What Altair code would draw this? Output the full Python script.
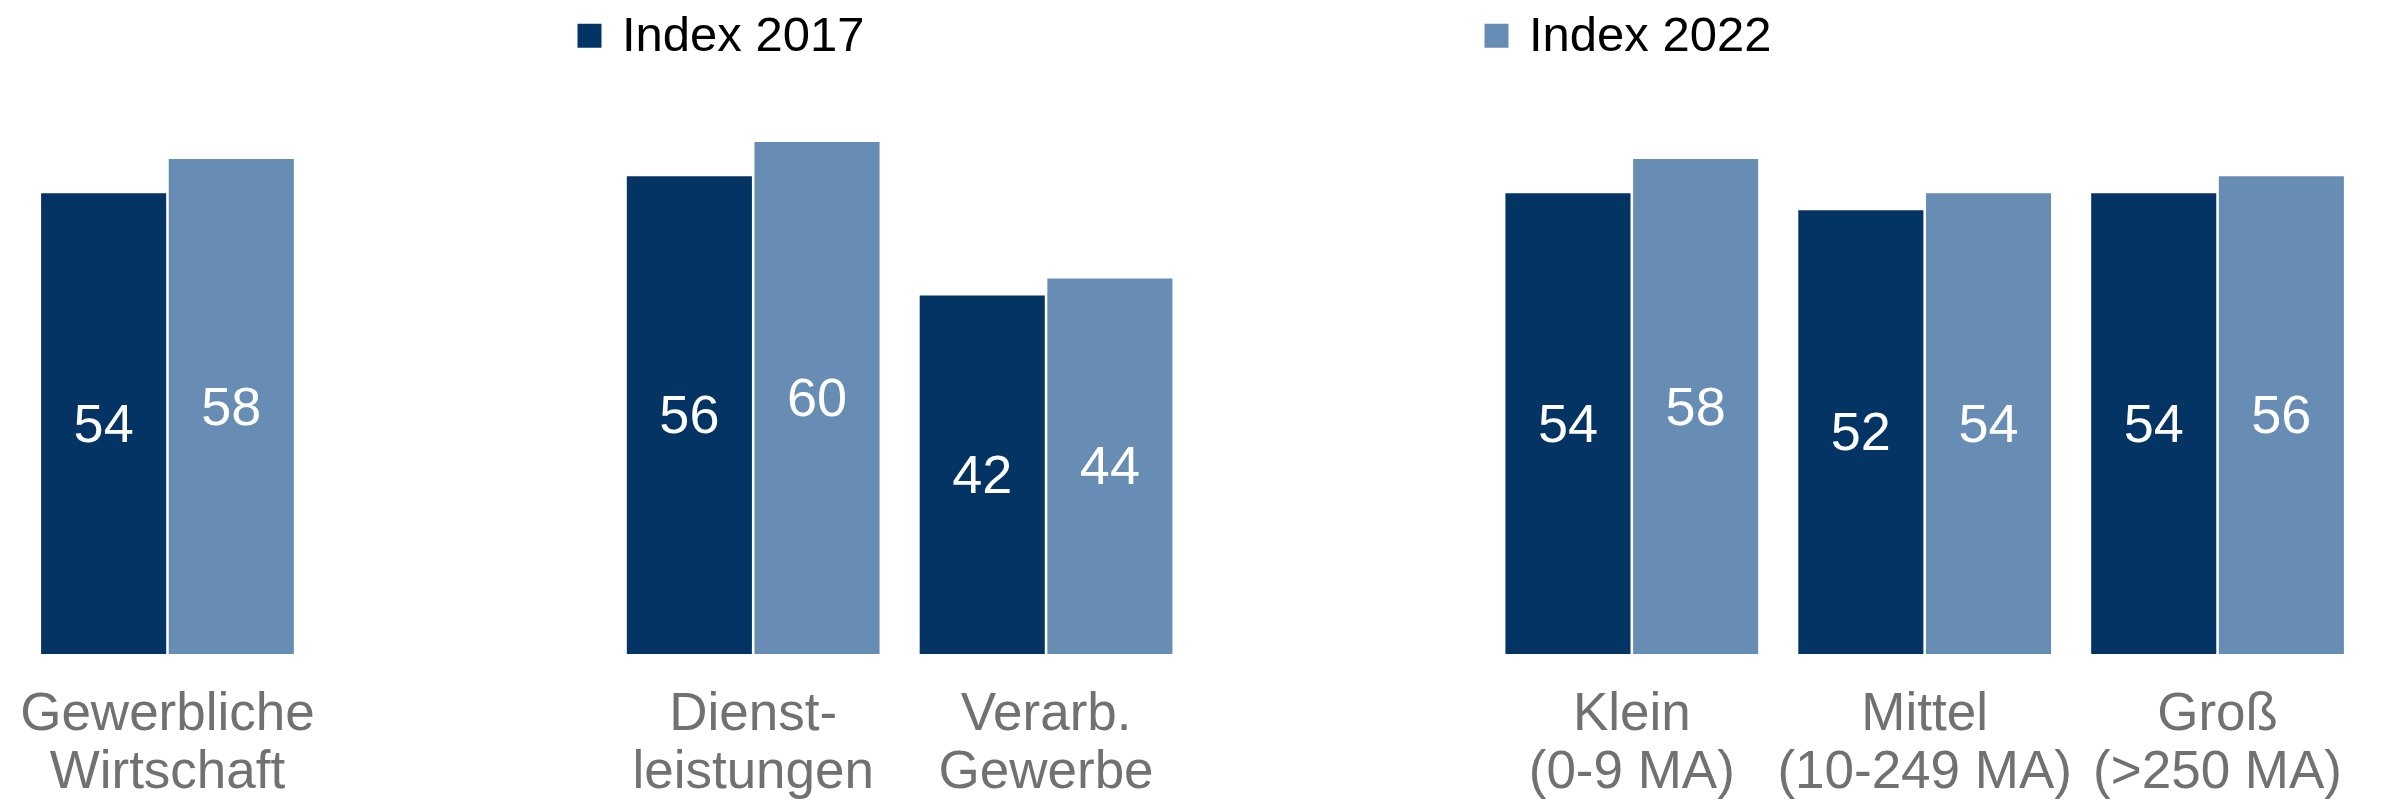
import altair as alt
import pandas as pd

categories = [
    "Gewerbliche\nWirtschaft",
    "Dienst-\nleistungen",
    "Verarb.\nGewerbe",
    "Klein\n(0-9 MA)",
    "Mittel\n(10-249 MA)",
    "Groß\n(>250 MA)",
]
index_2017 = [54, 56, 42, 54, 52, 54]
index_2022 = [58, 60, 44, 58, 54, 56]
series_names = ["Index 2017", "Index 2022"]
series_colors = ["#033463", "#688DB4"]

# slot order on the x axis, with two empty slots separating the groups
x_domain = [
    categories[0], "gap1",
    categories[1], categories[2], "gap2",
    categories[3], categories[4], categories[5],
]

rows = []
for c, a, b in zip(categories, index_2017, index_2022):
    rows.append({"cat": c, "series": series_names[0], "value": a})
    rows.append({"cat": c, "series": series_names[1], "value": b})
df = pd.DataFrame(rows)

FONT = "Liberation Sans, Arial, Helvetica, sans-serif"

x_enc = alt.X(
    "cat:N",
    sort=x_domain,
    scale=alt.Scale(domain=x_domain, paddingInner=0.137, paddingOuter=0.0686),
    axis=alt.Axis(
        title=None,
        ticks=False,
        domain=False,
        grid=False,
        labelAngle=0,
        labelFont=FONT,
        labelFontSize=53,
        labelColor="#717171",
        labelPadding=33,
        labelLineHeight=58,
        labelBaseline="top",
        labelLimit=0,
        labelExpr="indexof(datum.label, 'gap') == 0 ? '' : split(datum.label, '\\n')",
    ),
)
xoff_enc = alt.XOffset(
    "series:N",
    scale=alt.Scale(domain=series_names, paddingInner=0.02, paddingOuter=0),
)

base = alt.Chart(df).encode(x=x_enc, xOffset=xoff_enc)

bars = base.mark_bar().encode(
    y=alt.Y("value:Q", scale=alt.Scale(domain=[0, 60], nice=False, zero=True), axis=None),
    color=alt.Color(
        "series:N",
        scale=alt.Scale(domain=series_names, range=series_colors),
        legend=alt.Legend(
            title=None,
            orient="none",
            direction="horizontal",
            legendX=544,
            legendY=-131,
            symbolType="square",
            symbolSize=576,
            symbolStrokeWidth=0,
            labelFont=FONT,
            labelFontSize=49,
            labelColor="#000000",
            labelOffset=8,
            labelLimit=0,
            columnPadding=607,
            padding=0,
        ),
    ),
)

labels = base.transform_calculate(mid="datum.value / 2").mark_text(
    font=FONT, fontSize=54, color="white", baseline="middle", align="center", dy=2
).encode(
    y=alt.Y("mid:Q", scale=alt.Scale(domain=[0, 60], nice=False, zero=True), axis=None),
    text=alt.Text("value:Q"),
)

chart = (
    alt.layer(bars, labels)
    .properties(
        width=2343,
        height=512,
        background="white",
        autosize=alt.AutoSizeParams(type="none"),
        padding={"left": 13, "top": 134, "right": 25, "bottom": 145},
    )
    .configure_view(stroke="transparent", strokeWidth=0)
)

chart.save("out.html", embed_options={"renderer": "svg", "actions": False})
